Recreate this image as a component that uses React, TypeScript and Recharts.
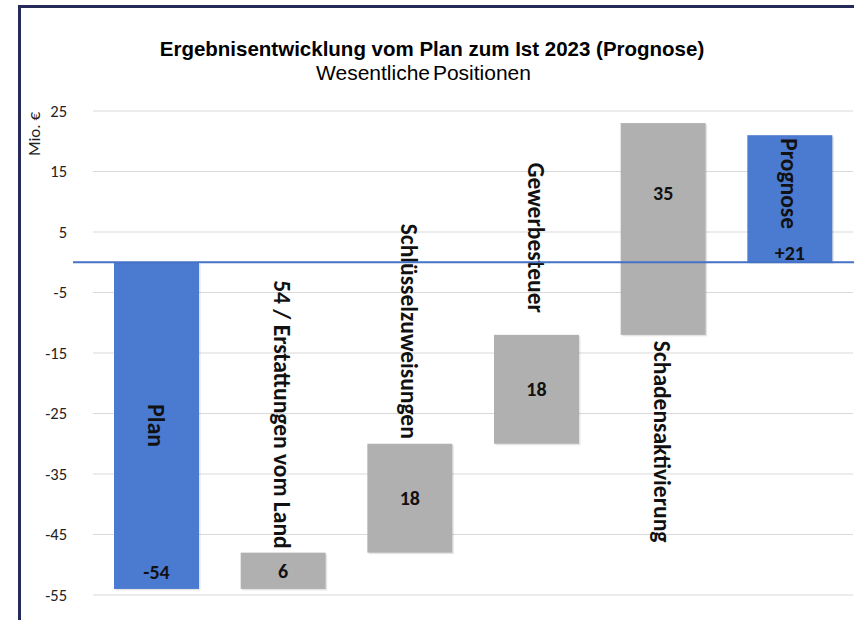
import React from 'react';
import { BarChart, Bar, XAxis, YAxis, CartesianGrid, ReferenceLine } from 'recharts';

// Ergebnisentwicklung vom Plan zum Ist 2023 (Prognose) - Werte in Mio. €
const categories = ['Plan', '54 / Erstattungen vom Land', 'Schlüsselzuweisungen', 'Gewerbesteuer', 'Schadensaktivierung', 'Prognose'];
const barStart = [0, -54, -48, -30, -12, 0];
const barEnd = [-54, -48, -30, -12, 23, 21];
const valueLabels = ['-54', '6', '18', '18', '35', '+21'];
const isTotal = [true, false, false, false, false, true];
const yTicks = [25, 15, 5, -5, -15, -25, -35, -45, -55];

// layout only: where the rotated names and the numbers sit on each bar
const namePlacement = [
    { mode: 'center', gap: 0 },
    { mode: 'above', gap: 4 },
    { mode: 'above', gap: 5 },
    { mode: 'above', gap: 22 },
    { mode: 'below', gap: 6 },
    { mode: 'insideTop', gap: 3 },
];
const valuePlacement = [
    { mode: 'bottom', gap: 17 },
    { mode: 'center', gap: 0 },
    { mode: 'center', gap: 0 },
    { mode: 'center', gap: 0 },
    { mode: 'positive', gap: 0 },
    { mode: 'bottom', gap: 9 },
];

const BLUE = '#4A7BD1';
const GREY = '#B0B0B0';
const LABEL_FONT = 'Carlito, Lato, sans-serif';

const rows = categories.map((name, i) => ({
    name,
    idx: i,
    range: [Math.min(barStart[i], barEnd[i]), Math.max(barStart[i], barEnd[i])],
}));

function WaterfallBar(props: any) {
    const { x, y, width, height, payload } = props;
    const i = payload.idx;
    const top = Math.min(y, y + height);
    const h = Math.abs(height);
    const bottom = top + h;
    const cx = x + width / 2;

    const np = namePlacement[i];
    let nameY = (top + bottom) / 2;
    let anchor: any = 'middle';
    if (np.mode === 'above') { nameY = top - np.gap; anchor = 'end'; }
    if (np.mode === 'below') { nameY = bottom + np.gap; anchor = 'start'; }
    if (np.mode === 'insideTop') { nameY = top + np.gap; anchor = 'start'; }

    const vp = valuePlacement[i];
    let valueY = (top + bottom) / 2;
    if (vp.mode === 'bottom') valueY = bottom - vp.gap;
    if (vp.mode === 'positive') {
        const [lo, hi] = payload.range;
        const zeroY = top + (hi / (hi - lo)) * h;
        valueY = (top + zeroY) / 2;
    }

    return (
        <g>
            <rect x={x + 1.5} y={top + 1.5} width={width} height={h} fill="rgba(0,0,0,0.10)" />
            <rect x={x} y={top} width={width} height={h} fill={isTotal[i] ? BLUE : GREY} />
            <text
                x={cx - 1}
                y={nameY}
                transform={`rotate(90, ${cx - 1}, ${nameY})`}
                textAnchor={anchor}
                dominantBaseline="central"
                fontFamily={LABEL_FONT}
                fontWeight="bold"
                fontSize={23.5}
                fill="#111"
            >
                {payload.name}
            </text>
            <text
                x={cx}
                y={valueY}
                textAnchor="middle"
                dominantBaseline="central"
                fontFamily={LABEL_FONT}
                fontWeight="bold"
                fontSize={20}
                fill="#111"
            >
                {valueLabels[i]}
            </text>
        </g>
    );
}

// zero line reaches a little into the axis area, like in the original
const ZeroLine = (props: any) => {
    const { x1, y1, x2, y2 } = props;
    return <line x1={x1 - 20} y1={y1} x2={x2 + 2} y2={y2} stroke="#4472C4" strokeWidth={2} />;
};

export default function App() {
    return (
        <div style={{ position: 'absolute', left: 0, top: 0, width: 854, height: 620, background: '#fff', overflow: 'hidden' }}>
            {/* frame */}
            <div style={{ position: 'absolute', left: 18, top: 5, width: 836, height: 3, background: '#262A58' }} />
            <div style={{ position: 'absolute', left: 18, top: 5, width: 3, height: 615, background: '#262A58' }} />

            <div style={{ position: 'absolute', left: 0, top: 37, width: 864, textAlign: 'center', fontFamily: '"Liberation Sans", Arial, sans-serif', fontWeight: 'bold', fontSize: 20.5, color: '#000', whiteSpace: 'nowrap' }}>
                Ergebnisentwicklung vom Plan zum Ist 2023 (Prognose)
            </div>
            <div style={{ position: 'absolute', left: 0, top: 61, width: 847, textAlign: 'center', fontFamily: '"Liberation Sans", Arial, sans-serif', fontSize: 21, color: '#000', wordSpacing: -3, whiteSpace: 'nowrap' }}>
                Wesentliche Positionen
            </div>
            <div style={{ position: 'absolute', left: 34, top: 134, transform: 'translate(-50%, -50%) rotate(-90deg)', fontFamily: LABEL_FONT, fontSize: 17, color: '#222', whiteSpace: 'nowrap' }}>
                Mio. €
            </div>

            <BarChart
                width={854}
                height={620}
                data={rows}
                margin={{ top: 111, right: 1, bottom: 25, left: 0 }}
                style={{ position: 'absolute', left: 0, top: 0 }}
            >
                <CartesianGrid vertical={false} stroke="#D9D9D9" />
                <XAxis dataKey="name" hide />
                <YAxis
                    width={93}
                    domain={[-55, 25]}
                    ticks={yTicks}
                    interval={0}
                    axisLine={false}
                    tickLine={false}
                    tickSize={6}
                    tickMargin={20}
                    tick={{ fill: '#222', fontSize: 16.5, fontFamily: LABEL_FONT }}
                />
                <Bar dataKey="range" barSize={85} shape={WaterfallBar} isAnimationActive={false} />
                <ReferenceLine y={0} shape={ZeroLine} ifOverflow="visible" />
            </BarChart>
        </div>
    );
}
